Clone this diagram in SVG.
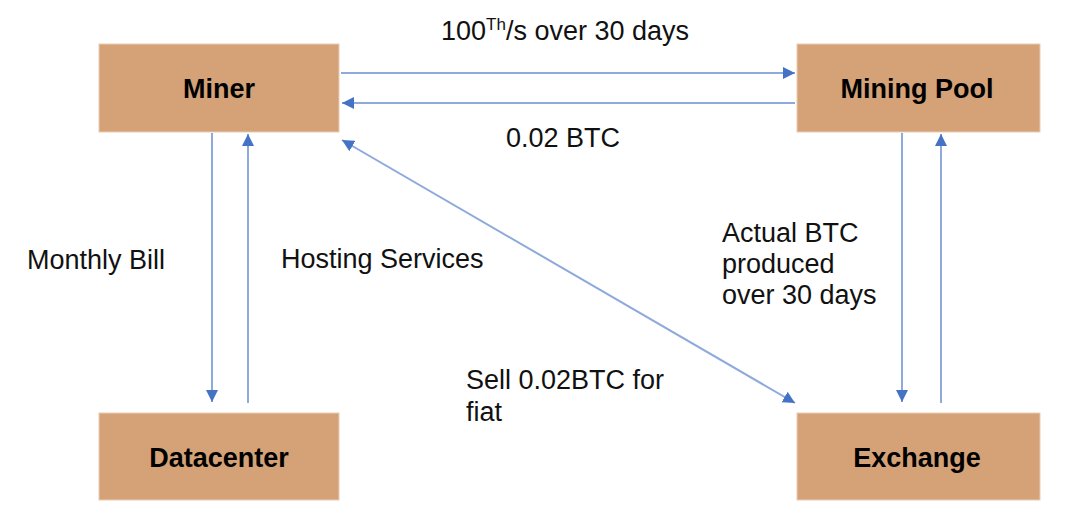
<svg xmlns="http://www.w3.org/2000/svg" width="1080" height="522" viewBox="0 0 1080 522">
<defs>
<style>
.box{fill:#D4A276;stroke:#E8CDB4;stroke-width:1}
.lbl{font-family:"Liberation Sans",Arial,sans-serif;font-size:27px;font-weight:bold;fill:#000;text-anchor:middle}
.t{font-family:"Liberation Sans",Arial,sans-serif;font-size:27px;fill:#111}
.c{fill:none;stroke:#8EA9DB;stroke-width:2}
</style>
<marker id="ah" viewBox="0 0 10 10" refX="10" refY="5" markerWidth="6" markerHeight="6" markerUnits="strokeWidth" orient="auto-start-reverse">
<path d="M0,0 L10,5 L0,10 Z" fill="#4472C4"/>
</marker>
</defs>
<rect width="1080" height="522" fill="#fff"/>
<g id="miner"><rect class="box" x="99" y="44" width="240" height="88"/><text class="lbl" x="219" y="98">Miner</text></g>
<g id="pool"><rect class="box" x="797" y="44" width="243" height="88"/><text class="lbl" x="917" y="98">Mining Pool</text></g>
<g id="datacenter"><rect class="box" x="99" y="413" width="240" height="87"/><text class="lbl" x="219" y="467">Datacenter</text></g>
<g id="exchange"><rect class="box" x="797" y="413" width="243" height="87"/><text class="lbl" x="917" y="467">Exchange</text></g>
<g id="connectors">
<line class="c" x1="341" y1="73" x2="795" y2="73" marker-end="url(#ah)"/>
<line class="c" x1="795" y1="103" x2="342" y2="103" marker-end="url(#ah)"/>
<line class="c" x1="212" y1="133" x2="212" y2="402" marker-end="url(#ah)"/>
<line class="c" x1="248" y1="403" x2="248" y2="134" marker-end="url(#ah)"/>
<line class="c" x1="902" y1="133" x2="902" y2="402" marker-end="url(#ah)"/>
<line class="c" x1="941" y1="403" x2="941" y2="134" marker-end="url(#ah)"/>
<line class="c" x1="342" y1="140" x2="795" y2="403" marker-start="url(#ah)" marker-end="url(#ah)"/>
</g>
<g id="labels">
<text class="t" x="441" y="40">100<tspan font-size="17" dy="-10">Th</tspan><tspan dy="10">/s over 30 days</tspan></text>
<text class="t" x="563" y="147" text-anchor="middle">0.02 BTC</text>
<text class="t" x="27" y="269">Monthly Bill</text>
<text class="t" x="281" y="268">Hosting Services</text>
<text class="t" x="722" y="242">Actual BTC</text>
<text class="t" x="722" y="273">produced</text>
<text class="t" x="722" y="304">over 30 days</text>
<text class="t" x="466" y="389">Sell 0.02BTC for</text>
<text class="t" x="466" y="421">fiat</text>
</g>
</svg>
